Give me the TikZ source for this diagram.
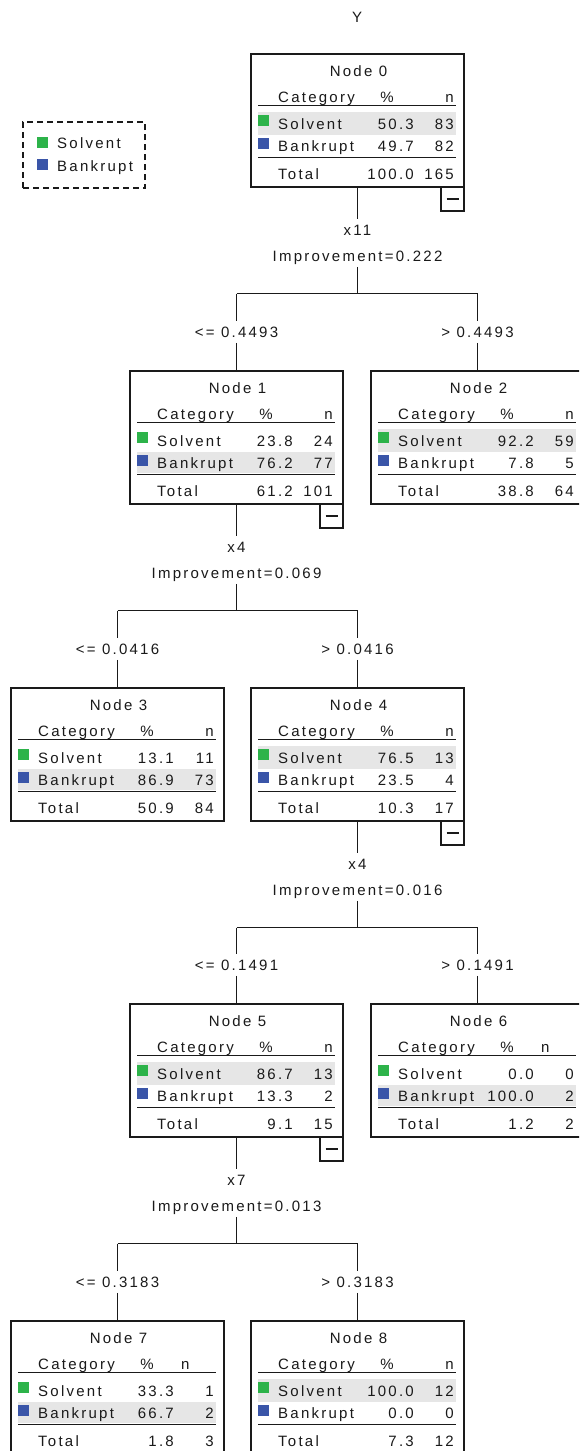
\documentclass[tikz,border=0pt]{standalone}
\usepackage{fontspec}
\newfontfamily\uifont[LetterSpace=15]{Liberation Sans}
\usetikzlibrary{calc}
\definecolor{solv}{HTML}{2DB34A}
\definecolor{bank}{HTML}{3A55A8}
\definecolor{hl}{HTML}{E6E6E6}
\definecolor{ink}{HTML}{1A1A1A}
\tikzset{
  txt/.style={font=\uifont\fontsize{15}{18}\selectfont, inner sep=0pt, text=ink},
  treebox/.style={draw=ink, line width=1.5pt, fill=white, minimum width=213pt, minimum height=133pt, inner sep=0pt},
  rulel/.style={draw=ink, line width=1.8pt},
  conn/.style={draw=ink, line width=1.3pt},
  lbl/.style={txt, text height=14pt, text depth=3pt, inner ysep=2pt, inner xsep=1pt, anchor=base},
  minusbox/.style={draw=ink, line width=1.3pt, fill=white, minimum width=23pt, minimum height=24pt, inner sep=0pt,
    path picture={\draw[line width=1.3pt] ([xshift=-6pt]path picture bounding box.center) -- ([xshift=6pt]path picture bounding box.center);}},
  legendbox/.style={draw=ink, line width=1.3pt, dash pattern=on 6pt off 4pt, minimum width=122pt, minimum height=66pt, inner sep=0pt},
}
\def\parsevals#1/#2/#3/#4/#5/#6\relax{\def\vsp{#1}\def\vsn{#2}\def\vbp{#3}\def\vbn{#4}\def\vtp{#5}\def\vtn{#6}}
\def\nhx{203}\def\nha{east}
% #1 name #2 left #3 top #4 number #5 highlighted row #6 values #7 minus box
\newcommand\mknode[7]{%
  \parsevals#6\relax
  \begin{scope}[shift={(#2,#3)}]
    \node[treebox] (#1) at (106.5,66.5) {};
    \ifnum#5=1 \fill[hl] (7,58) rectangle (205,81);\else \fill[hl] (7,81) rectangle (205,102);\fi
    \node[txt,anchor=base] (#1-t) at (107.5,22.5) {Node #4};
    \node[txt,anchor=base west] (#1-hc) at (27,48.5) {Category};
    \node[txt,anchor=base] (#1-hp) at (136,48.5) {\%};
    \node[txt,anchor=base \nha] (#1-hn) at (\nhx,48.5) {n};
    \draw[rulel] (7,51.5) -- (205,51.5);
    \fill[solv] (7,61) rectangle (18,72);
    \fill[bank] (7,84) rectangle (18,95);
    \node[txt,anchor=base west] (#1-s) at (27,75.5) {Solvent};
    \node[txt,anchor=base east] (#1-sp) at (163,75.5) {\vsp};
    \node[txt,anchor=base east] (#1-sn) at (203,75.5) {\vsn};
    \node[txt,anchor=base west] (#1-b) at (27,97.5) {Bankrupt};
    \node[txt,anchor=base east] (#1-bp) at (163,97.5) {\vbp};
    \node[txt,anchor=base east] (#1-bn) at (203,97.5) {\vbn};
    \draw[rulel] (7,103.5) -- (205,103.5);
    \node[txt,anchor=base west] (#1-o) at (27,125.5) {Total};
    \node[txt,anchor=base east] (#1-op) at (163,125.5) {\vtp};
    \node[txt,anchor=base east] (#1-on) at (203,125.5) {\vtn};
    \ifnum#7=1 \node[minusbox] (#1-m) at (201.5,145) {};\fi
  \end{scope}}
% #1 parent #2 variable #3 improvement #4 left child #5 right child #6 left text #7 right text
\newcommand\mksplit[7]{%
  \node[lbl] (#1-v) at ($(#1.south)+(0,47.3)$) {#2};
  \node[lbl] (#1-i) at ($(#1.south)+(0,74)$) {#3};
  \coordinate (#1-j) at ($(#1.south)+(0,106)$);
  \coordinate (#1-jl) at (#4.north |- #1-j);
  \coordinate (#1-jr) at (#5.north |- #1-j);
  \node[lbl] (#1-l) at ($(#4.north)+(0,-32.7)$) {#6};
  \node[lbl] (#1-r) at ($(#5.north)+(0,-32.7)$) {#7};
  \draw[conn] (#1.south) -- (#1-v.north);
  \draw[conn] (#1-i.south) -- (#1-j);
  \draw[conn] (#1-jl) -- (#1-jr);
  \draw[conn] (#1-jl) -- (#1-l.north);
  \draw[conn] (#1-l.south) -- (#4.north);
  \draw[conn] (#1-jr) -- (#1-r.north);
  \draw[conn] (#1-r.south) -- (#5.north);}
\begin{document}
\begin{tikzpicture}[x=1pt,y=-1pt]
  \useasboundingbox (0,0) rectangle (579,1451);
  \clip (0,0) rectangle (579,1451);
  \fill[white] (0,0) rectangle (579,1451);
  \node[txt,anchor=base] (title) at (357,22.5) {Y};
  % legend
  \node[legendbox] (legend) at (84,155) {};
  \fill[solv] (37,137) rectangle (48,148);
  \node[txt,anchor=base west] (lg-s) at (57,148.5) {Solvent};
  \fill[bank] (37,159) rectangle (48,170);
  \node[txt,anchor=base west] (lg-b) at (57,171.5) {Bankrupt};
  % nodes
  \mknode{n0}{251}{54}{0}{1}{50.3/83/49.7/82/100.0/165}{1}
  \mknode{n1}{130}{371}{1}{2}{23.8/24/76.2/77/61.2/101}{1}
  \mknode{n2}{371}{371}{2}{1}{92.2/59/7.8/5/38.8/64}{0}
  \mknode{n3}{11}{688}{3}{2}{13.1/11/86.9/73/50.9/84}{0}
  \mknode{n4}{251}{688}{4}{1}{76.5/13/23.5/4/10.3/17}{1}
  \mknode{n5}{130}{1004}{5}{1}{86.7/13/13.3/2/9.1/15}{1}
  \def\nhx{170}\def\nha{west}
  \mknode{n6}{371}{1004}{6}{2}{0.0/0/100.0/2/1.2/2}{0}
  \mknode{n7}{11}{1321}{7}{2}{33.3/1/66.7/2/1.8/3}{0}
  \def\nhx{203}\def\nha{east}
  \mknode{n8}{251}{1321}{8}{1}{100.0/12/0.0/0/7.3/12}{0}
  % splits
  \mksplit{n0}{x11}{Improvement=0.222}{n1}{n2}{<= 0.4493}{> 0.4493}
  \mksplit{n1}{x4}{Improvement=0.069}{n3}{n4}{<= 0.0416}{> 0.0416}
  \mksplit{n4}{x4}{Improvement=0.016}{n5}{n6}{<= 0.1491}{> 0.1491}
  \mksplit{n5}{x7}{Improvement=0.013}{n7}{n8}{<= 0.3183}{> 0.3183}
\end{tikzpicture}
\end{document}
